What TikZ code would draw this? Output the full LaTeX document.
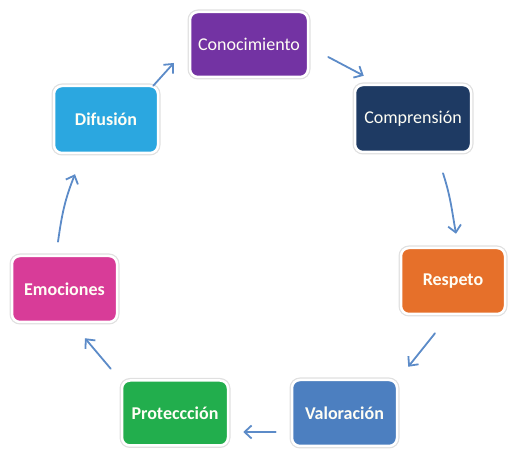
\documentclass[tikz,border=0pt]{standalone}
\usepackage{fontspec}
\setmainfont{Carlito}
\usetikzlibrary{arrows.meta,calc}
\definecolor{cpurple}{HTML}{7333A3}
\definecolor{cnavy}{HTML}{1E3A63}
\definecolor{corange}{HTML}{E6702A}
\definecolor{cblue}{HTML}{4C7FC0}
\definecolor{cgreen}{HTML}{22AE4D}
\definecolor{cpink}{HTML}{D83C98}
\definecolor{ccyan}{HTML}{2BA7E0}
\definecolor{carrow}{HTML}{5C8BC8}
\tikzset{
  stagebox/.style={rounded corners=8pt, minimum height=66pt, minimum width=105pt,
    inner sep=0pt, text=white!96!yellow, font=\fontsize{18}{21}\selectfont\bfseries,
    draw=white, line width=2.5pt,
    preaction={draw=black!12, line width=5pt}},
  cyc/.style={draw=carrow, line width=1.8pt, line cap=round,
    -{Straight Barb[length=7pt,width=13pt,line width=1.8pt]}}
}
\begin{document}
\begin{tikzpicture}[x=1pt,y=1pt]
\useasboundingbox (0,0) rectangle (520,460);
\node[stagebox, fill=cpurple, minimum width=118pt, minimum height=65pt, font=\fontsize{18}{21}\selectfont] (con) at (249,415.5) {Conocimiento};
\node[stagebox, fill=cnavy, minimum width=116pt, minimum height=67pt, font=\fontsize{18}{21}\selectfont] (com) at (413,341.5) {Comprensión};
\node[stagebox, fill=corange, minimum width=104pt] (res) at (453,179) {Respeto};
\node[stagebox, fill=cblue] (val) at (344.5,47) {Valoración};
\node[stagebox, fill=cgreen, minimum width=106pt, minimum height=65pt] (pro) at (175,47) {Proteccción};
\node[stagebox, fill=cpink] (emo) at (64.5,171) {Emociones};
\node[stagebox, fill=ccyan, minimum width=104pt, minimum height=67pt] (dif) at (106,340.5) {Difusión};

\draw[cyc] ($(con.east)+(19,-12.5)$) -- ($(com.north west)+(10,8)$);
\draw[cyc] ($(com.south)+(30,-20)$) to[out=-72,in=100] ($(res.north)+(3,13)$);
\draw[cyc] ($(res.south)+(-18,-18)$) -- ($(val.north east)+(10,12)$);
\draw[cyc] ($(val.west)+(-15,-19)$) -- ($(pro.east)+(14,-19)$);
\draw[cyc] ($(pro.north west)+(-10,10.5)$) -- ($(emo.south)+(20.5,-15)$);
\draw[cyc] ($(emo.north)+(-6.5,13)$) to[out=82,in=-112] ($(dif.south)+(-31,-20)$);
\draw[cyc] ($(dif.north east)+(-6,-1)$) -- ($(con.west)+(-15,-18.5)$);
\end{tikzpicture}
\end{document}
